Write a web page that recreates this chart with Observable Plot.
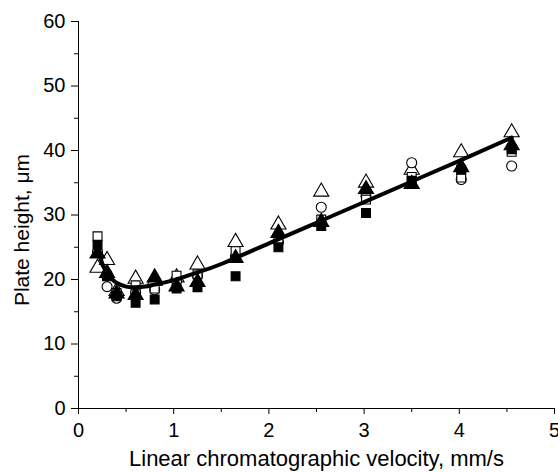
<!DOCTYPE html>
<html>
<head>
<meta charset="utf-8">
<script src="https://cdn.jsdelivr.net/npm/d3@7"></script>
<script src="https://cdn.jsdelivr.net/npm/@observablehq/plot@0.6"></script>
<style>
  html, body { margin: 0; padding: 0; background: #fff; }
</style>
</head>
<body>
<div id="chart"></div>
<script>
// Linear velocity (mm/s) for each measurement column
const velocities = [0.2, 0.3, 0.4, 0.6, 0.8, 1.03, 1.25, 1.65, 2.1, 2.55, 3.02, 3.5, 4.02, 4.55];

// Plate height (µm) per series
const openSquare     = [26.7, 20.6, 17.9, 19.1, 18.6, 20.6, 20.8, 24.4, 26.2, 29.3, 32.4, 35.9, 35.8, 39.8];
const filledSquare   = [25.4, 20.5, 17.4, 16.4, 16.9, 18.6, 18.8, 20.5, 25.0, 28.3, 30.3, 35.3, 37.0, 40.2];
const openCircle     = [24.3, 18.9, 17.1, 18.0, 18.4, 19.8, 20.6, 23.6, 25.8, 31.2, 32.9, 38.1, 35.5, 37.6];
const openTriangle   = [21.8, 23.0, 18.2, 20.1, 19.8, 20.3, 22.3, 25.8, 28.5, 33.6, 35.0, 37.0, 39.7, 42.8];
const filledTriangle = [24.0, 21.0, 17.8, 17.6, 20.3, 18.9, 19.6, 23.3, 27.2, 28.9, 34.0, 34.8, 37.4, 40.8];

// Fitted curve
const curveU = [0.2, 0.25, 0.3, 0.35, 0.4, 0.5, 0.6, 0.7, 0.8, 1.0, 1.25, 1.5, 2.0, 2.5, 3.0, 3.5, 4.0, 4.55];
const curveH = [24.6, 22.5, 21.0, 20.1, 19.5, 18.9, 18.8, 18.9, 19.2, 19.9, 21.1, 22.4, 25.6, 28.8, 32.0, 35.2, 38.4, 42.0];

const xMajor = [0, 1, 2, 3, 4, 5];
const xMinor = [0.5, 1.5, 2.5, 3.5, 4.5];
const yMajor = [0, 10, 20, 30, 40, 50, 60];
const yMinor = [5, 15, 25, 35, 45, 55];

const xLabel = "Linear chromatographic velocity, mm/s";
const yLabel = "Plate height, μm";

const toPts = arr => velocities.map((v, i) => ({x: v, y: arr[i]})).filter(d => d.y != null);
const curve = curveU.map((u, i) => ({x: u, y: curveH[i]}));

const series = [
  {data: openTriangle, symbol: "triangle", fill: "white", r: 5.6},
  {data: openCircle, symbol: "circle", fill: "white", r: 5},
  {data: openSquare, symbol: "square", fill: "white", r: 5},
  {data: filledSquare, symbol: "square", fill: "black", r: 5},
  {data: filledTriangle, symbol: "triangle", fill: "black", r: 5.6}
];

const font = "'Liberation Sans', Arial, sans-serif";

const chart = Plot.plot({
  width: 558,
  height: 472,
  marginLeft: 78,
  marginRight: 4,
  marginTop: 21,
  marginBottom: 64,
  style: {fontFamily: font, fontSize: "20px", color: "black", background: "white"},
  x: {domain: [0, 5]},
  y: {domain: [0, 60]},
  marks: [
    // tick marks (labels drawn separately with explicit font size)
    Plot.axisX({ticks: xMajor, tickSize: 6, tickFormat: () => "", label: null}),
    Plot.axisX({ticks: xMinor, tickSize: 4, tickFormat: () => "", label: null}),
    Plot.axisY({ticks: yMajor, tickSize: 7, tickFormat: () => "", label: null}),
    Plot.axisY({ticks: yMinor, tickSize: 4, tickFormat: () => "", label: null}),
    // tick labels
    Plot.text(xMajor, {x: d => d, text: d => String(d), frameAnchor: "bottom", dy: 14,
      lineAnchor: "top", textAnchor: "middle", fontSize: 20, fill: "black"}),
    Plot.text(yMajor, {y: d => d, text: d => String(d), frameAnchor: "left", dx: -13,
      lineAnchor: "middle", textAnchor: "end", fontSize: 20, fill: "black"}),
    // axis titles
    Plot.text([xLabel], {frameAnchor: "bottom", text: d => d, dy: 42,
      lineAnchor: "top", textAnchor: "middle", fontSize: 22, fill: "black"}),
    Plot.text([yLabel], {frameAnchor: "left", text: d => d, rotate: -90, dx: -56, dy: 15,
      textAnchor: "middle", lineAnchor: "middle", fontSize: 21, fill: "black"}),
    // axis lines
    Plot.ruleX([0], {stroke: "black", strokeWidth: 1}),
    Plot.ruleY([0], {stroke: "black", strokeWidth: 1}),
    // data
    ...series.map(s => Plot.dot(toPts(s.data), {
      x: "x", y: "y", symbol: s.symbol, r: s.r, fill: s.fill, stroke: "black", strokeWidth: 1.1
    })),
    Plot.line(curve, {x: "x", y: "y", curve: "natural", stroke: "black", strokeWidth: 4})
  ]
});
document.getElementById("chart").appendChild(chart);
</script>
</body>
</html>
